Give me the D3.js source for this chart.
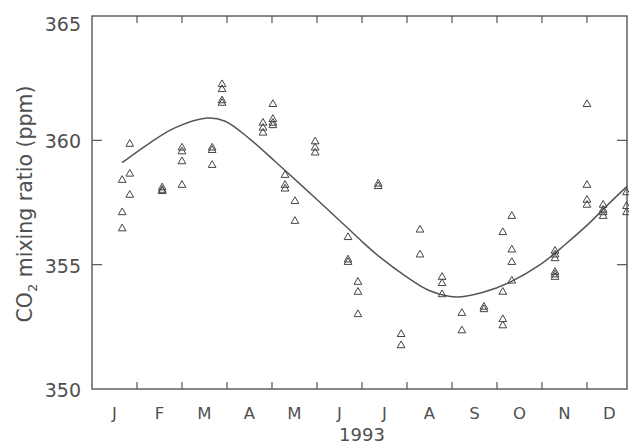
<!DOCTYPE html>
<html>
<head>
<meta charset="utf-8">
<script src="https://cdn.jsdelivr.net/npm/d3@7"></script>
<style>
  body { margin: 0; background: #fff; }
  text { font-family: "DejaVu Sans", sans-serif; fill: #505050; }
</style>
</head>
<body>
<script>
// month initials along the bottom, one per month (label sits mid-month)
var monthLabels = ["J", "F", "M", "A", "M", "J", "J", "A", "S", "O", "N", "D"];
var monthTicks = [1, 2, 3, 4, 5, 6, 7, 8, 9, 10, 11];
var yTicks = [350, 355, 360, 365];

// sampling dates (fraction of year in months) and the CO2 values taken on each
var sampleMonth = [0.67, 0.84, 1.56, 2.0, 2.67, 2.89, 3.8, 4.02, 4.29, 4.51, 4.96,
                   5.69, 5.91, 6.36, 6.87, 7.29, 7.78, 8.22, 8.71, 9.13, 9.33,
                   10.29, 11.0, 11.36, 11.88];
var samplePpm = [
  [358.4, 357.1, 356.45],
  [359.85, 358.65, 357.8],
  [358.0, 358.1, 357.95],
  [359.7, 359.55, 359.15, 358.2],
  [359.7, 359.6, 359.0],
  [362.25, 362.05, 361.6, 361.5],
  [360.7, 360.5, 360.3],
  [361.45, 360.85, 360.7, 360.6],
  [358.6, 358.2, 358.05],
  [357.55, 356.75],
  [359.95, 359.7, 359.5],
  [356.1, 355.2, 355.1],
  [354.3, 353.9, 353.0],
  [358.25, 358.15],
  [352.2, 351.75],
  [356.4, 355.4],
  [354.5, 354.25, 353.8],
  [353.05, 352.35],
  [353.3, 353.2],
  [356.3, 353.9, 352.8, 352.55],
  [356.95, 355.6, 355.1, 354.35],
  [355.55, 355.4, 355.25, 354.7, 354.6, 354.5],
  [361.45, 358.2, 357.6, 357.4],
  [357.4, 357.2, 357.1, 356.95],
  [357.9, 357.35, 357.1]
];

// fitted seasonal curve
var fitMonth = [0.67, 1.29, 1.84, 2.56, 2.96, 3.51, 4.07, 4.62, 5.4, 5.96, 6.4,
                6.96, 7.51, 8.1, 8.71, 9.29, 9.96, 10.51, 11.07, 11.4, 11.89];
var fitPpm = [359.1, 359.9, 360.5, 360.9, 360.77, 360.05, 359.15, 358.25, 356.95, 356.0, 355.3,
              354.55, 353.95, 353.7, 353.9, 354.3, 355.0, 355.8, 356.7, 357.3, 358.15];

var width = 629,
    height = 445,
    plotL = 92, plotR = 627, plotT = 16, plotB = 389;

var svg = d3.select("body").append("svg")
    .attr("width", width)
    .attr("height", height);

var x = d3.scaleLinear().domain([0, 11.89]).range([plotL, plotR]);
var y = d3.scaleLinear().domain([350, 365]).range([plotB, plotT]);

var ink = "#555";

// frame
svg.append("rect")
    .attr("x", plotL).attr("y", plotT)
    .attr("width", plotR - plotL).attr("height", plotB - plotT)
    .attr("fill", "none").attr("stroke", ink).attr("stroke-width", 1.4);

// inward ticks, bottom and top
svg.append("g").selectAll("line")
  .data(monthTicks).enter().append("line")
    .attr("x1", d => x(d)).attr("x2", d => x(d))
    .attr("y1", plotB).attr("y2", plotB - 7)
    .attr("stroke", ink).attr("stroke-width", 1.2);
svg.append("g").selectAll("line")
  .data(monthTicks).enter().append("line")
    .attr("x1", d => x(d)).attr("x2", d => x(d))
    .attr("y1", plotT).attr("y2", plotT + 7)
    .attr("stroke", ink).attr("stroke-width", 1.2);

// inward ticks, left and right
svg.append("g").selectAll("line")
  .data(yTicks.slice(1, 3)).enter().append("line")
    .attr("x1", plotL).attr("x2", plotL + 10)
    .attr("y1", d => y(d)).attr("y2", d => y(d))
    .attr("stroke", ink).attr("stroke-width", 1.2);
svg.append("g").selectAll("line")
  .data(yTicks.slice(1, 3)).enter().append("line")
    .attr("x1", plotR).attr("x2", plotR - 10)
    .attr("y1", d => y(d)).attr("y2", d => y(d))
    .attr("stroke", ink).attr("stroke-width", 1.2);

// y tick labels
svg.append("g").selectAll("text")
  .data(yTicks).enter().append("text")
    .attr("x", plotL - 11)
    .attr("y", d => y(d) + (d === 365 ? 8 : 1))
    .attr("text-anchor", "end")
    .attr("dominant-baseline", "central")
    .attr("font-size", 19)
    .text(d => d);

// month labels
svg.append("g").selectAll("text")
  .data(monthLabels).enter().append("text")
    .attr("x", (d, i) => x(i + 0.5))
    .attr("y", 413)
    .attr("text-anchor", "middle")
    .attr("dominant-baseline", "central")
    .attr("font-size", 16.5)
    .text(d => d);

svg.append("text")
    .attr("x", 362).attr("y", 434)
    .attr("text-anchor", "middle")
    .attr("dominant-baseline", "central")
    .attr("font-size", 18)
    .text("1993");

// y axis title
var title = svg.append("text")
    .attr("transform", "translate(32,204) rotate(-90)")
    .attr("text-anchor", "middle")
    .attr("font-size", 20.5);
title.append("tspan").text("CO");
title.append("tspan").attr("font-size", 13).attr("dy", 5).text("2");
title.append("tspan").attr("dy", -5).text(" mixing ratio (ppm)");

// fitted curve
var fit = fitMonth.map((m, i) => [m, fitPpm[i]]);
svg.append("path")
    .datum(fit)
    .attr("fill", "none")
    .attr("stroke", ink)
    .attr("stroke-width", 1.5)
    .attr("d", d3.line()
      .x(d => x(d[0]))
      .y(d => y(d[1]))
      .curve(d3.curveCatmullRom));

// observations
var obs = [];
sampleMonth.forEach((m, i) => {
  samplePpm[i].forEach(v => obs.push({ month: m, ppm: v }));
});

svg.append("g")
    .attr("class", "obs")
  .selectAll("path")
  .data(obs)
  .enter().append("path")
    .attr("transform", d => "translate(" + x(d.month) + "," + y(d.ppm) + ")")
    .attr("d", d3.symbol(d3.symbolTriangle, 26))
    .attr("fill", "none")
    .attr("stroke", "#444")
    .attr("stroke-width", 1);
</script>
</body>
</html>
